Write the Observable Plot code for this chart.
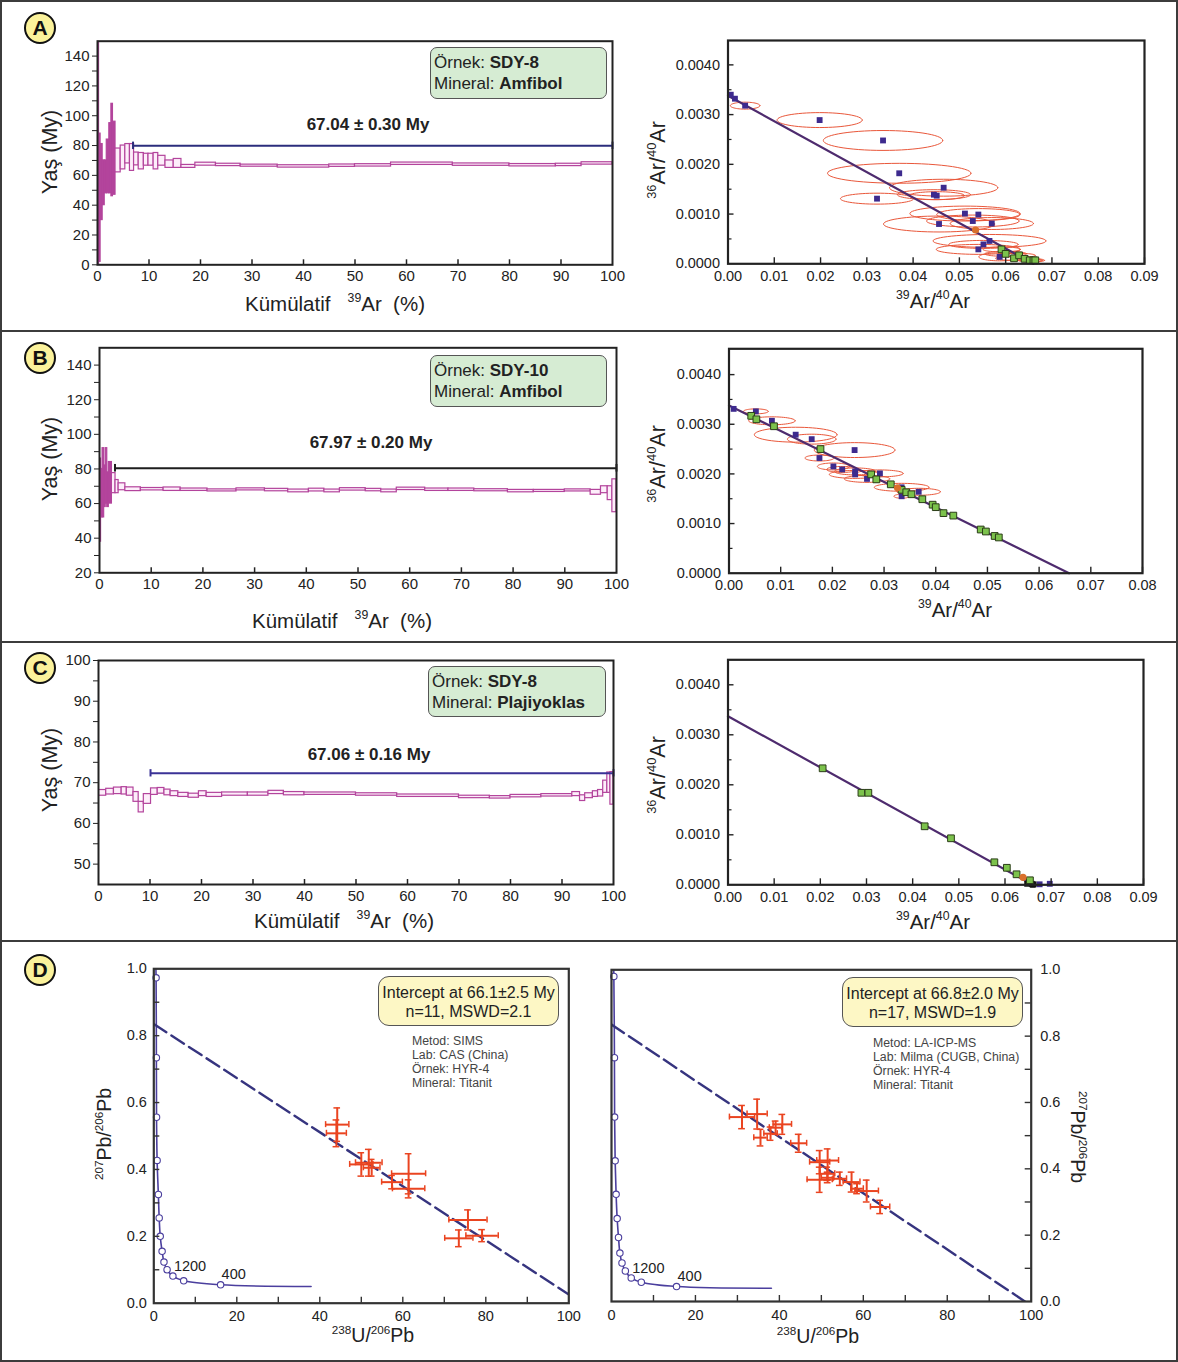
<!DOCTYPE html>
<html>
<head>
<meta charset="utf-8">
<script src="https://cdn.jsdelivr.net/npm/d3@7"></script>
<script src="https://cdn.jsdelivr.net/npm/@observablehq/plot@0.6"></script>
<style>
html,body{margin:0;padding:0;background:#fff;}
#fig{position:relative;width:1178px;height:1362px;overflow:hidden;background:#fff;font-family:"Liberation Sans",Arial,Helvetica,sans-serif;color:#222;}
.panel{position:absolute;left:0;width:1178px;box-sizing:border-box;border:2px solid #3c3c3c;}
.badge{position:absolute;width:32px;height:32px;box-sizing:border-box;border-radius:50%;background:#fbf29b;border:2px solid #111;font:bold 21px/28px "Liberation Sans",Arial,sans-serif;text-align:center;color:#111;}
.lbl{position:absolute;white-space:pre;line-height:1;color:#222;}
.lbl sup{font-size:0.6em;vertical-align:0.7em;line-height:0;}
.info{position:absolute;box-sizing:border-box;border:1.3px solid #555;border-radius:7px;background:#d6ecd3;font-size:17px;line-height:21px;padding:4px 0 0 3px;color:#222;white-space:pre;}
.icpt{position:absolute;box-sizing:border-box;border:1.3px solid #555;border-radius:11px;background:#fdf7c5;font-size:16px;line-height:18.5px;text-align:center;padding-top:7px;color:#222;white-space:pre;}
.meta{position:absolute;font-size:12.3px;line-height:14px;color:#444;white-space:pre;}
</style>
</head>
<body>
<div id="fig"></div>
<script>
// ---------------- DATA ----------------
// Panel A: step-heating spectrum (cumulative 39Ar %, apparent age, 2σ error)
const specA_cum = [0, 0.3, 0.6, 1.0, 1.4, 1.8, 2.3, 2.7, 3.0, 3.5, 4.5, 5.4, 6.3, 7.1, 8.0, 9.0, 9.9, 10.9, 11.8, 13.2, 14.8, 16.3, 19.0, 23.0, 27.8, 35.0, 45.0, 50.0, 57.0, 69.0, 80.0, 89.0, 94.0, 100];
const specA_age = [75, 45, 55.5, 55, 59, 66, 71.5, 77, 71.5, 70, 72, 74.5, 72, 71, 69.5, 70.5, 70.5, 69.5, 69.8, 67.5, 68, 66, 67.5, 67, 66.5, 66, 66.5, 66.7, 67.8, 67.2, 66.8, 67, 68];
const specA_err = [75, 43, 25.5, 15, 11, 18, 23.5, 31, 24.5, 8, 8, 6.5, 9, 4.3, 5.5, 4, 4, 5.5, 3.3, 2.5, 3, 1, 1, 0.8, 0.7, 0.8, 0.8, 0.8, 0.8, 0.8, 0.8, 0.8, 0.8];
const plateauA = {x1: 6.9, x2: 100, y: 79.8};
const plateauA_label = "67.04 ± 0.30 My";

// Panel B spectrum
const specB_cum = [0, 0.3, 0.6, 0.9, 1.2, 1.5, 1.8, 2.4, 3.1, 3.7, 5.0, 8.0, 12.4, 15.7, 20.9, 26.5, 32.0, 36.5, 40.5, 43.5, 46.5, 51.5, 54.5, 57.5, 63.0, 67.5, 72.5, 79.0, 84.0, 90.0, 95.0, 97.0, 98.3, 99.2, 100];
const specB_age = [62, 66, 72, 70, 76, 68, 72, 71.8, 69.8, 69.7, 68.3, 68.3, 68.3, 68, 67.6, 68.2, 67.8, 67.3, 67.8, 67.3, 68.2, 67.8, 67.3, 68.5, 68, 68, 67.7, 67.2, 67.3, 67.6, 66.5, 68, 66, 64.5];
const specB_err = [24, 14, 20, 12, 16, 10, 12, 5.8, 3.8, 2, 1.1, 0.7, 1, 0.7, 0.6, 0.6, 0.7, 0.8, 0.8, 0.8, 0.7, 0.7, 0.8, 0.7, 0.7, 0.7, 0.6, 0.7, 0.6, 0.6, 1.4, 2, 4, 9.5];
const plateauB = {x1: 3.0, x2: 100, y: 80.4};
const plateauB_label = "67.97 ± 0.20 My";

// Panel C spectrum
const specC_cum = [0, 1.5, 3, 4.5, 5.5, 6.8, 7.8, 8.8, 10.2, 11.5, 12.8, 14, 15.5, 17.5, 19.5, 21, 24, 29, 33, 36, 40, 50, 58, 70, 76, 80, 86, 92, 93.5, 94.5, 96, 97, 98, 98.8, 99.4, 100];
const specC_age = [67.5, 67.8, 68, 68, 67.8, 66.5, 64, 66, 67.8, 68, 67.6, 67.3, 67, 66.8, 67.3, 67, 67.2, 67.2, 67.6, 67.3, 67.3, 67.1, 66.8, 66.5, 66.4, 66.7, 66.9, 67.2, 66.2, 66.8, 67.2, 67.4, 69, 70, 68.6];
const specC_err = [0.7, 0.7, 0.8, 0.9, 1, 1.2, 1.3, 1.2, 0.8, 0.7, 0.7, 0.6, 0.5, 0.5, 0.6, 0.5, 0.4, 0.4, 0.4, 0.4, 0.3, 0.3, 0.3, 0.3, 0.3, 0.3, 0.3, 0.5, 0.7, 0.6, 0.7, 0.8, 1.5, 2.5, 4];
const plateauC = {x1: 10.1, x2: 100, y: 72.3};
const plateauC_label = "67.06 ± 0.16 My";

// Panel A isochron (39Ar/40Ar, 36Ar/40Ar, ellipse semi-axes)
const isoA_px = [0.0006, 0.0015, 0.0037, 0.0198, 0.0335, 0.0370, 0.0322, 0.0466, 0.0445, 0.0451, 0.0512, 0.0541, 0.0529, 0.0570, 0.0456, 0.0565, 0.0552, 0.0541, 0.0587];
const isoA_py = [0.00340, 0.00332, 0.00318, 0.00289, 0.00248, 0.00182, 0.00131, 0.00153, 0.00139, 0.00137, 0.00101, 0.00099, 0.00086, 0.00081, 0.00080, 0.00046, 0.00039, 0.00029, 0.00014];
const isoA_pex = [0, 0, 0.0032, 0.0092, 0.0129, 0.0155, 0.0079, 0.0117, 0.0079, 0.0060, 0.0119, 0.0090, 0.0100, 0.0090, 0.0120, 0.0122, 0.0075, 0.0091, 0.0045];
const isoA_pey = [0, 0, 0.00007, 0.00015, 0.00020, 0.00020, 0.00011, 0.00017, 0.00010, 0.00008, 0.00015, 0.00012, 0.00012, 0.00012, 0.00016, 0.00013, 0.00008, 0.00010, 0.00008];
const isoA_gx = [0.0591, 0.0600, 0.0618, 0.0629, 0.0641, 0.0652, 0.0660, 0.0664];
const isoA_gy = [0.00029, 0.00020, 0.00011, 0.00017, 0.00010, 0.00007, 0.00007, 0.00007];
const isoA_gex = [0.0040, 0.0045, 0.0040, 0.0035, 0.0030, 0.0025, 0.0020, 0.0020];
const isoA_gey = [0.00005, 0.00005, 0.00004, 0.00004, 0.00003, 0.00003, 0.00003, 0.00003];
const isoA_ox = [0.0535], isoA_oy = [0.00068];
const isoA_lineX = [0, 0.066], isoA_lineY = [0.00338, 0];

// Panel B isochron
const isoB_px = [0.0009, 0.0052, 0.0083, 0.0129, 0.0160, 0.0243, 0.0175, 0.0202, 0.0219, 0.0244, 0.0244, 0.0267, 0.0292, 0.0334, 0.0334, 0.0367];
const isoB_py = [0.00331, 0.00326, 0.00307, 0.00279, 0.00270, 0.00248, 0.00232, 0.00215, 0.00209, 0.00205, 0.00199, 0.00190, 0.00201, 0.00173, 0.00155, 0.00164];
const isoB_pex = [0, 0.0024, 0.0045, 0.0080, 0.0047, 0.0078, 0.0028, 0.0031, 0.0030, 0.0040, 0.0050, 0.0044, 0.0045, 0.0053, 0.0015, 0.0042];
const isoB_pey = [0, 0.00005, 0.00008, 0.00015, 0.00010, 0.00015, 0.00006, 0.00007, 0.00006, 0.00007, 0.00008, 0.00007, 0.00007, 0.00008, 0.00004, 0.00007];
const isoB_gx = [0.0043, 0.0053, 0.0087, 0.0177, 0.0275, 0.0285, 0.0313, 0.0334, 0.0343, 0.0353, 0.0374, 0.0394, 0.0400, 0.0415, 0.0434, 0.0487, 0.0497, 0.0514, 0.0522];
const isoB_gy = [0.00317, 0.00310, 0.00296, 0.00250, 0.00199, 0.00189, 0.00179, 0.00168, 0.00163, 0.00159, 0.00149, 0.00138, 0.00133, 0.00121, 0.00116, 0.00088, 0.00084, 0.00075, 0.00072];
const isoB_ox = [0.0326], isoB_oy = [0.00172];
const isoB_lineX = [0, 0.0658], isoB_lineY = [0.00338, 0];

// Panel C isochron
const isoC_gx = [0.0205, 0.0289, 0.0304, 0.0426, 0.0483, 0.0577, 0.0604, 0.0625, 0.0654];
const isoC_gy = [0.00233, 0.00184, 0.00184, 0.00117, 0.00093, 0.00045, 0.00034, 0.00021, 0.00009];
const isoC_ox = [0.0639], isoC_oy = [0.00015];
const isoC_kx = [0.0648, 0.0652, 0.0658, 0.0662, 0.0660];
const isoC_ky = [0.00002, 0.00004, 0.00002, 0.00001, 0.0];
const isoC_px = [0.0675, 0.0697];
const isoC_py = [0.00001, 0.00002];
const isoC_lineX = [0, 0.066], isoC_lineY = [0.00337, 0];

// Panel D: Tera-Wasserburg (238U/206Pb, 207Pb/206Pb)
const concL_x = [0.4, 0.55, 0.62, 0.66, 0.8, 1.1, 1.3, 1.55, 2.0, 2.45, 3.2, 4.6, 7.2, 16.1, 37.9];
const concL_y = [1.05, 0.973, 0.734, 0.556, 0.427, 0.325, 0.255, 0.200, 0.155, 0.123, 0.100, 0.081, 0.067, 0.055, 0.050];
const concR_x = [0.45, 0.56, 0.7, 0.74, 0.87, 1.1, 1.35, 1.67, 2.0, 2.5, 3.3, 4.7, 7.1, 15.5, 38.1];
const concR_y = [1.05, 0.980, 0.735, 0.556, 0.424, 0.323, 0.250, 0.193, 0.146, 0.116, 0.092, 0.071, 0.058, 0.045, 0.040];
const concAgeIdx = [11, 13];
const concAgeText = ["1200", "400"];
const discL_x = [0, 100], discL_y = [0.835, 0.026];
const discR_x = [0, 98.5], discR_y = [0.835, 0];
const ptsL_x = [44.2, 44.0, 50.0, 51.8, 52.5, 57.4, 61.4, 61.4, 75.7, 73.5, 79.1];
const ptsL_y = [0.534, 0.508, 0.415, 0.420, 0.405, 0.362, 0.387, 0.342, 0.249, 0.194, 0.202];
const ptsL_ex = [2.8, 2.4, 2.8, 3.2, 2.0, 2.5, 4.1, 3.9, 4.6, 3.4, 3.9];
const ptsL_ey = [0.05, 0.04, 0.035, 0.04, 0.025, 0.02, 0.06, 0.027, 0.03, 0.025, 0.018];
const ptsR_x = [31.1, 34.7, 35.5, 37.9, 39.1, 40.7, 44.6, 49.6, 51.5, 49.6, 51.4, 51.5, 54.4, 57.2, 58.5, 60.8, 64.0];
const ptsR_y = [0.556, 0.565, 0.494, 0.506, 0.524, 0.534, 0.477, 0.420, 0.425, 0.367, 0.385, 0.373, 0.370, 0.360, 0.340, 0.333, 0.285];
const ptsR_ex = [3.0, 2.4, 1.6, 1.6, 1.5, 2.2, 1.9, 2.4, 2.6, 3.0, 1.8, 1.5, 1.6, 2.0, 1.5, 2.8, 2.3];
const ptsR_ey = [0.035, 0.045, 0.025, 0.02, 0.02, 0.03, 0.027, 0.035, 0.035, 0.038, 0.02, 0.015, 0.02, 0.03, 0.015, 0.033, 0.02];

// ---------------- STYLE ----------------
const MAG = "#b3449c", PINK = "#fdeefa", RED = "#e9573a", PURPLE = "#3d2a8e", GREEN = "#7cc24c",
      ORANGE = "#d9702c", LINE = "#4e2b6e", CONC = "#4b3f9e", CROSS = "#ea4420", DISC = "#36347f";
const fig = document.getElementById("fig");
const baseStyle = (fs) => ({background: "transparent", fontFamily: '"Liberation Sans", Arial, sans-serif', fontSize: fs + "px", color: "#222", overflow: "visible"});

function put(node, left, top) {
  node.style.position = "absolute"; node.style.left = left + "px"; node.style.top = top + "px"; node.style.maxWidth = "none";
  fig.appendChild(node); return node;
}
function div(cls, html, css) {
  const d = document.createElement("div"); d.className = cls; d.innerHTML = html;
  Object.assign(d.style, css); fig.appendChild(d); return d;
}
function label(html, cx, cy, size, rot = 0) {
  div("lbl", html, {left: cx + "px", top: cy + "px", fontSize: size + "px", transform: `translate(-50%,-50%) rotate(${rot}deg)`});
}

// ---------------- SPECTRUM ----------------
function spectrum(c) {
  const ih = c.height - c.mt - c.mb;
  const steps = c.age.map((a, i) => ({x1: c.cum[i], x2: c.cum[i + 1], lo: a - c.err[i], hi: a + c.err[i], big: c.err[i] >= 10}));
  const p = c.plateau;
  return Plot.plot({
    width: c.width, height: c.height, marginLeft: c.ml, marginRight: c.mr, marginTop: c.mt, marginBottom: c.mb,
    x: {domain: [0, 100], label: null}, y: {domain: c.yDomain, label: null},
    style: baseStyle(15),
    marks: [
      Plot.rect(steps, {x1: "x1", x2: "x2", y1: "lo", y2: "hi", fill: d => d.big ? MAG : PINK, stroke: MAG, strokeWidth: 1.2, clip: true}),
      Plot.ruleY([p], {y: "y", x1: "x1", x2: "x2", stroke: c.color, strokeWidth: 2}),
      Plot.ruleX([p.x1, p.x2], {x: d => d, y1: p.y - c.capH, y2: p.y + c.capH, stroke: c.color, strokeWidth: 2}),
      Plot.text([c.label], {text: d => d, frameAnchor: "top", lineAnchor: "middle", dx: 13, dy: c.labelDy, fontWeight: "bold", fontSize: 17, fill: "#222"}),
      Plot.axisY({ticks: c.yTicks, tickSize: 5, tickPadding: 3, tickFormat: d => d % c.labelStep === 0 ? d : ""}),
      Plot.axisX({ticks: d3.range(0, 101, 10), tickSize: 0, tickPadding: 6}),
      Plot.ruleX(d3.range(10, 100, 10), {x: d => d, insetTop: ih - 5, stroke: "#222", strokeWidth: 1.5}),
      Plot.frame({stroke: "#222", strokeWidth: 2})
    ]
  });
}

// ---------------- ISOCHRON ----------------
function isochron(c) {
  const iw = c.width - c.ml - c.mr, ih = c.height - c.mt - c.mb;
  const pts = (xs, ys) => (xs || []).map((x, i) => ({x, y: ys[i]}));
  const ell = [];
  (c.ell || []).forEach(([xs, ys, exs, eys], g) => xs.forEach((x, i) => {
    if (!exs[i]) return;
    for (let k = 0; k <= 60; k++) {
      const t = 2 * Math.PI * k / 60;
      ell.push({id: g * 100 + i, x: x + exs[i] * Math.cos(t), y: ys[i] + eys[i] * Math.sin(t)});
    }
  }));
  const xt = d3.ticks(0, c.xmax, Math.round(c.xmax / 0.01));
  const yt = d3.ticks(0, 0.004, 4);
  const ym = d3.range(4).map(i => 0.0005 + i * 0.001);
  return Plot.plot({
    width: c.width, height: c.height, marginLeft: c.ml, marginRight: c.mr, marginTop: c.mt, marginBottom: c.mb,
    x: {domain: [0, c.xmax], label: null}, y: {domain: [0, c.ymax], label: null},
    style: baseStyle(14.5),
    marks: [
      Plot.line(ell, {x: "x", y: "y", z: "id", stroke: RED, strokeWidth: 1, clip: true}),
      Plot.line(pts(c.lineX, c.lineY), {x: "x", y: "y", stroke: LINE, strokeWidth: 2.2}),
      Plot.dot(pts(c.px, c.py), {x: "x", y: "y", symbol: "square", r: 3.3, fill: PURPLE}),
      Plot.dot(pts(c.kx, c.ky), {x: "x", y: "y", symbol: "square", r: 3.3, fill: "#111"}),
      Plot.dot(pts(c.gx, c.gy), {x: "x", y: "y", symbol: "square", r: 3.8, fill: GREEN, stroke: "#2b3d18", strokeWidth: 1}),
      Plot.dot(pts(c.ox, c.oy), {x: "x", y: "y", r: 3.6, fill: ORANGE}),
      Plot.axisX({ticks: xt, tickFormat: d3.format(".2f"), tickSize: 0, tickPadding: 7}),
      Plot.axisY({ticks: yt, tickFormat: d3.format(".4f"), tickSize: 0, tickPadding: 8}),
      Plot.ruleX(xt.slice(1), {x: d => d, insetTop: ih - 6, stroke: "#222", strokeWidth: 1.4}),
      Plot.ruleY(yt.slice(1), {y: d => d, insetRight: iw - 6, stroke: "#222", strokeWidth: 1.4}),
      Plot.ruleY(ym, {y: d => d, insetRight: iw - 4, stroke: "#222", strokeWidth: 1.2}),
      Plot.frame({stroke: "#222", strokeWidth: 2.2})
    ]
  });
}

// ---------------- TERA-WASSERBURG ----------------
function tw(c) {
  const iw = c.width - c.ml - c.mr, ih = c.height - c.mt - c.mb;
  const line = c.concX.map((x, i) => ({x, y: c.concY[i]}));
  const circles = line.slice(1, -1);
  const ages = concAgeIdx.map((idx, j) => ({...line[idx], t: concAgeText[j]}));
  const disc = c.discX.map((x, i) => ({x, y: c.discY[i]}));
  const pts = c.px.map((x, i) => ({x, y: c.py[i], ex: c.pex[i], ey: c.pey[i]}));
  const capX = 0.8, capY = 0.009;
  const right = c.yAnchor === "right";
  return Plot.plot({
    width: c.width, height: c.height, marginLeft: c.ml, marginRight: c.mr, marginTop: c.mt, marginBottom: c.mb,
    x: {domain: [0, 100], label: null}, y: {domain: [0, 1], label: null},
    style: baseStyle(14.5),
    marks: [
      Plot.line(line, {x: "x", y: "y", curve: "catmull-rom", stroke: CONC, strokeWidth: 1.6, clip: true}),
      Plot.dot(circles, {x: "x", y: "y", r: 3.2, fill: "white", stroke: CONC, strokeWidth: 1.1}),
      Plot.text(ages, {x: "x", y: "y", text: "t", dx: 1, dy: -10, textAnchor: "start", fontSize: 14.5, fill: "#222"}),
      Plot.line(disc, {x: "x", y: "y", stroke: DISC, strokeWidth: 2.4, strokeDasharray: "15,6", clip: true}),
      Plot.ruleY(pts, {y: "y", x1: d => d.x - d.ex, x2: d => d.x + d.ex, stroke: CROSS, strokeWidth: 2}),
      Plot.ruleX(pts, {x: "x", y1: d => d.y - d.ey, y2: d => d.y + d.ey, stroke: CROSS, strokeWidth: 2}),
      Plot.ruleX(pts.flatMap(d => [d.x - d.ex, d.x + d.ex].map(x => ({x, y: d.y}))), {x: "x", y1: d => d.y - capY, y2: d => d.y + capY, stroke: CROSS, strokeWidth: 1.5}),
      Plot.ruleY(pts.flatMap(d => [d.y - d.ey, d.y + d.ey].map(y => ({x: d.x, y}))), {y: "y", x1: d => d.x - capX, x2: d => d.x + capX, stroke: CROSS, strokeWidth: 1.5}),
      Plot.axisX({ticks: [0, 20, 40, 60, 80, 100], tickSize: 0, tickPadding: 8}),
      Plot.ruleX(d3.range(10, 100, 10), {x: d => d, insetTop: ih - 6, stroke: "#333", strokeWidth: 1.4}),
      Plot.axisY({anchor: c.yAnchor, ticks: d3.ticks(0, 1, 5), tickFormat: d3.format(".1f"), tickSize: 0, tickPadding: right ? 9 : 7}),
      Plot.ruleY(d3.range(1, 10).map(i => i / 10), right ? {y: d => d, insetLeft: iw - 6, stroke: "#333", strokeWidth: 1.4} : {y: d => d, insetRight: iw - 6, stroke: "#333", strokeWidth: 1.4}),
      Plot.frame({stroke: "#333", strokeWidth: 2.2})
    ]
  });
}

// ---------------- PANELS ----------------
div("panel", "", {top: "0px", height: "332px"});
div("panel", "", {top: "330px", height: "313px"});
div("panel", "", {top: "641px", height: "301px"});
div("panel", "", {top: "940px", height: "422px"});

put(spectrum({width: 640, height: 330, ml: 97, mr: 28, mt: 40.7, mb: 65.7, yDomain: [0, 150], yTicks: d3.range(0, 141, 10), labelStep: 20,
  cum: specA_cum, age: specA_age, err: specA_err, plateau: plateauA, capH: 2.5, color: "#2b2d7c", label: plateauA_label, labelDy: 83}), 0, 0);
put(spectrum({width: 640, height: 311, ml: 99, mr: 24, mt: 17.3, mb: 68.7, yDomain: [20, 150], yTicks: d3.range(20, 141, 10), labelStep: 20,
  cum: specB_cum, age: specB_age, err: specB_err, plateau: plateauB, capH: 2.2, color: "#1e1e1e", label: plateauB_label, labelDy: 95}), 0, 330);
put(spectrum({width: 640, height: 299, ml: 98, mr: 27, mt: 19, mb: 56, yDomain: [45, 100], yTicks: d3.range(50, 101, 5), labelStep: 10,
  cum: specC_cum, age: specC_age, err: specC_err, plateau: plateauC, capH: 0.9, color: "#3b3296", label: plateauC_label, labelDy: 94}), 0, 641);

put(isochron({width: 558, height: 330, ml: 107.5, mr: 34, mt: 40, mb: 66.7, xmax: 0.09, ymax: 0.00449,
  ell: [[isoA_px, isoA_py, isoA_pex, isoA_pey], [isoA_gx, isoA_gy, isoA_gex, isoA_gey]],
  px: isoA_px, py: isoA_py, gx: isoA_gx, gy: isoA_gy, ox: isoA_ox, oy: isoA_oy, lineX: isoA_lineX, lineY: isoA_lineY}), 620, 0);
put(isochron({width: 558, height: 311, ml: 108.5, mr: 36, mt: 18.3, mb: 68.3, xmax: 0.08, ymax: 0.00452,
  ell: [[isoB_px, isoB_py, isoB_pex, isoB_pey]],
  px: isoB_px, py: isoB_py, gx: isoB_gx, gy: isoB_gy, ox: isoB_ox, oy: isoB_oy, lineX: isoB_lineX, lineY: isoB_lineY}), 620, 330);
put(isochron({width: 558, height: 299, ml: 107.5, mr: 35, mt: 18.3, mb: 55.7, xmax: 0.09, ymax: 0.0045,
  px: isoC_px, py: isoC_py, kx: isoC_kx, ky: isoC_ky, gx: isoC_gx, gy: isoC_gy, ox: isoC_ox, oy: isoC_oy, lineX: isoC_lineX, lineY: isoC_lineY}), 620, 641);

put(tw({width: 520, height: 422, ml: 73.3, mr: 31.7, mt: 28.3, mb: 59.3, yAnchor: "left",
  concX: concL_x, concY: concL_y, discX: discL_x, discY: discL_y, px: ptsL_x, py: ptsL_y, pex: ptsL_ex, pey: ptsL_ey}), 80, 940);
put(tw({width: 500, height: 422, ml: 21, mr: 59.3, mt: 29.3, mb: 61, yAnchor: "right",
  concX: concR_x, concY: concR_y, discX: discR_x, discY: discR_y, px: ptsR_x, py: ptsR_y, pex: ptsR_ex, pey: ptsR_ey}), 590, 940);

// ---------------- TEXT OVERLAYS ----------------
[["A", 28], ["B", 358], ["C", 668], ["D", 970]].forEach(([t, cy]) => div("badge", t, {left: "24px", top: (cy - 16) + "px"}));

const kum = "Kümülatif   <sup>39</sup>Ar  (%)";
const arY = "<sup>36</sup>Ar/<sup>40</sup>Ar";
const arX = "<sup>39</sup>Ar/<sup>40</sup>Ar";
label("Yaş (My)", 51, 152, 21.5, -90);
label(kum, 335, 304, 20.5);
label(arY, 659, 160, 21.5, -90);
label(arX, 933, 301, 20.5);
label("Yaş (My)", 51, 459, 21.5, -90);
label(kum, 342, 621, 20.5);
label(arY, 659, 464, 21.5, -90);
label(arX, 955, 610, 20.5);
label("Yaş (My)", 51, 770, 21.5, -90);
label(kum, 344, 921, 20.5);
label(arY, 659, 775, 21.5, -90);
label(arX, 933, 922, 20.5);
label("<sup>207</sup>Pb/<sup>206</sup>Pb", 105, 1134, 19.5, -90);
label("<sup>238</sup>U/<sup>206</sup>Pb", 373, 1336, 19.5);
label("<sup>207</sup>Pb/<sup>206</sup>Pb", 1077, 1137, 19.5, 90);
label("<sup>238</sup>U/<sup>206</sup>Pb", 818, 1337, 19.5);

div("info", "Örnek: <b>SDY-8</b>\nMineral: <b>Amfibol</b>", {left: "430px", top: "47px", width: "177px", height: "52px"});
div("info", "Örnek: <b>SDY-10</b>\nMineral: <b>Amfibol</b>", {left: "430px", top: "355px", width: "177px", height: "52px"});
div("info", "Örnek: <b>SDY-8</b>\nMineral: <b>Plajiyoklas</b>", {left: "428px", top: "666px", width: "178px", height: "51px"});

div("icpt", "Intercept at 66.1±2.5 My\nn=11, MSWD=2.1", {left: "378px", top: "976px", width: "181px", height: "50px"});
div("icpt", "Intercept at 66.8±2.0 My\nn=17, MSWD=1.9", {left: "842px", top: "977px", width: "181px", height: "50px"});
div("meta", "Metod: SIMS\nLab: CAS (China)\nÖrnek: HYR-4\nMineral: Titanit", {left: "412px", top: "1034px"});
div("meta", "Metod: LA-ICP-MS\nLab: Milma (CUGB, China)\nÖrnek: HYR-4\nMineral: Titanit", {left: "873px", top: "1036px"});
</script>
</body>
</html>
